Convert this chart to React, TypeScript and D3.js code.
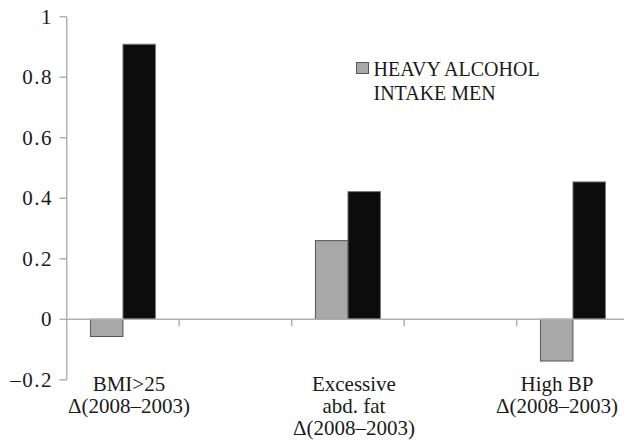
import React from "react";
import * as d3 from "d3";

const categories: string[][] = [
  ["BMI>25", "Δ(2008–2003)"],
  [],
  ["Excessive", "abd. fat", "Δ(2008–2003)"],
  [],
  ["High BP", "Δ(2008–2003)"],
];
const heavyAlcohol: (number | null)[] = [-0.057, null, 0.26, null, -0.138];
const otherSeries: (number | null)[] = [0.909, null, 0.422, null, 0.454];
const yTicks: number[] = [-0.2, 0, 0.2, 0.4, 0.6, 0.8, 1];
const legendLines: string[] = ["HEAVY ALCOHOL", "INTAKE MEN"];

const W = 624;
const H = 441;
const FONT = "Liberation Serif, Times New Roman, DejaVu Serif, serif";

export default function App() {
  const keys = categories.map((_, i) => String(i));
  const x = d3.scaleBand<string>().domain(keys).range([66.7, 629.2]).padding(0);
  const sub = d3
    .scaleBand<string>()
    .domain(["heavy", "other"])
    .range([0, x.bandwidth()])
    .paddingInner(0)
    .paddingOuter(0.73);
  const y = d3.scaleLinear().domain([-0.2, 1]).range([379.8, 16.7]);
  const fmt = (v: number) => (v === 0 ? "0" : v === 1 ? "1" : v < 0 ? "–" + Math.abs(v).toFixed(1) : v.toFixed(1));

  const bar = (v: number | null, i: number, s: string, fill: string, stroke: string) => {
    if (v == null) return null;
    const x0 = (x(String(i)) as number) + (sub(s) as number);
    const y0 = Math.min(y(v), y(0));
    const h = Math.abs(y(v) - y(0));
    return (
      <rect key={s + i} x={x0} y={y0} width={sub.bandwidth()} height={h} fill={fill} stroke={stroke} strokeWidth={1} />
    );
  };

  const labelCenter = (i: number) => Math.min((x(String(i)) as number) + x.bandwidth() / 2 + 6, 557);
  const textStyle: React.CSSProperties = { fontFamily: FONT };

  return (
    <svg width={W} height={H} style={{ position: "absolute", left: 0, top: 0, background: "#fff", fontFamily: FONT }}>
      {/* y axis */}
      <line x1={66.7} x2={66.7} y1={y(1)} y2={y(-0.2)} stroke="#b0b0b0" strokeWidth={1.5} />
      {yTicks.map((t) => (
        <g key={t}>
          <line x1={59.5} x2={66.7} y1={y(t)} y2={y(t)} stroke="#b0b0b0" strokeWidth={1.5} />
          <text x={53} y={y(t)} dy="0.34em" textAnchor="end" fontSize={21} letterSpacing={1.5} fill="#1a1a1a" style={textStyle}>
            {fmt(t)}
          </text>
        </g>
      ))}
      {/* bars */}
      {heavyAlcohol.map((v, i) => bar(v, i, "heavy", "#a8a8a8", "#555"))}
      {otherSeries.map((v, i) => bar(v, i, "other", "#0c0c0c", "#7a7a7a"))}
      {/* zero line */}
      <line x1={66.7} x2={W} y1={y(0)} y2={y(0)} stroke="#b0b0b0" strokeWidth={1.5} />
      {keys.slice(1).map((k) => (
        <line key={k} x1={x(k) as number} x2={x(k) as number} y1={y(0)} y2={y(0) + 7} stroke="#b0b0b0" strokeWidth={1.5} />
      ))}
      {/* category labels */}
      {categories.map((lines, i) => (
        <text key={i} textAnchor="middle" fontSize={21} fill="#1a1a1a" style={textStyle}>
          {lines.map((l, j) => (
            <tspan key={j} x={labelCenter(i)} y={391 + j * 22}>
              {l}
            </tspan>
          ))}
        </text>
      ))}
      {/* legend */}
      <rect x={356.5} y={62.5} width={12} height={11} fill="#a8a8a8" stroke="#555" strokeWidth={1} />
      {legendLines.map((l, j) => (
        <text key={j} x={373.5} y={76 + j * 23.5} fontSize={20} fill="#1a1a1a" style={textStyle}>
          {l}
        </text>
      ))}
    </svg>
  );
}
